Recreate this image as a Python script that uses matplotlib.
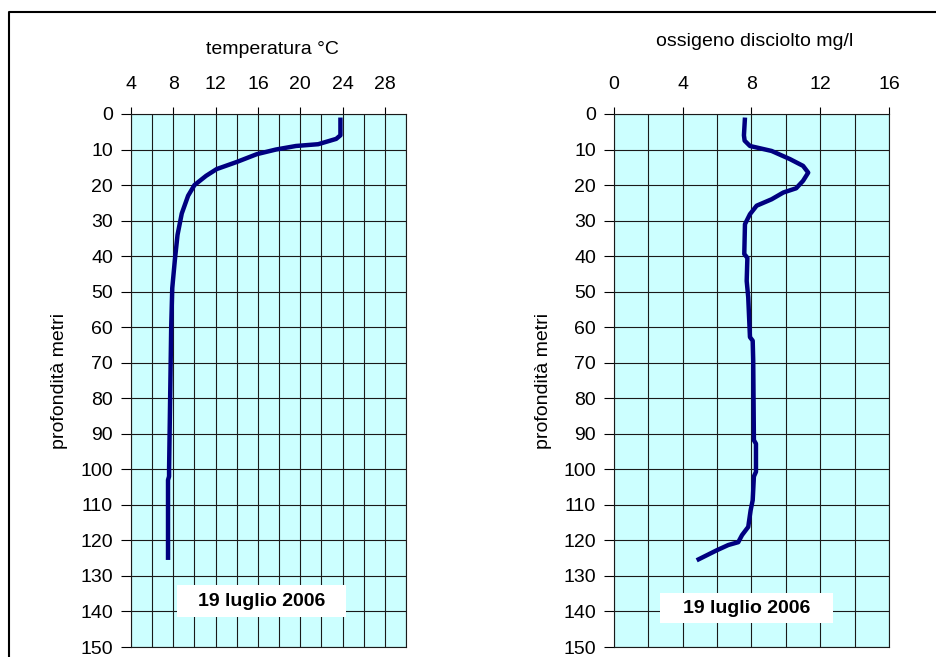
import numpy as np
import matplotlib
matplotlib.use('Agg')
import matplotlib.pyplot as plt
from matplotlib.patches import Rectangle
from matplotlib.lines import Line2D

plt.rcParams['font.family'] = ['Liberation Sans', 'DejaVu Sans']

# profilo di temperatura (profondita m, gradi C)
temp_depth = [1, 6, 7, 8.5, 9, 10, 11.3, 13.5, 15.5, 17.4, 20, 23, 28, 34,
              41, 49, 60, 70, 80, 90, 100, 102, 103, 110, 120, 125.5]
temp_val = [23.8, 23.8, 23.4, 21.7, 19.6, 17.7, 15.9, 14.0, 12.1, 11.1,
            10.0, 9.4, 8.8, 8.4, 8.15, 7.9, 7.8, 7.75, 7.7, 7.65, 7.6, 7.6,
            7.5, 7.5, 7.5, 7.5]
temp_ticks = [4, 8, 12, 16, 20, 24, 28]

# ossigeno disciolto (profondita m, mg/l)
ox_depth = [1, 6, 7.5, 9, 10.4, 12.7, 14.6, 16.5, 18.8, 20.9, 22.1, 24, 25.8,
            28.2, 31, 39.4, 40.5, 47, 51.6, 62.8, 63.8, 69.4, 91.8, 92.8,
            100.7, 102, 108.7, 111.5, 116.2, 118.5, 120.5, 121.3, 122.8,
            124.2, 125.6]
ox_val = [7.62, 7.56, 7.6, 7.91, 9.17, 10.24, 11.0, 11.3, 11.0, 10.6, 9.85,
          9.17, 8.3, 7.91, 7.62, 7.58, 7.76, 7.72, 7.81, 7.91, 8.07, 8.10,
          8.14, 8.26, 8.26, 8.14, 8.07, 7.95, 7.81, 7.45, 7.23, 6.65, 5.97,
          5.39, 4.81]
ox_ticks = [0, 4, 8, 12, 16]

depth_ticks = list(range(0, 151, 10))
date_label = '19 luglio 2006'

W, H = 937, 657
FS = 14
fig = plt.figure(figsize=(W / 100, H / 100), dpi=100)
fig.patch.set_facecolor('white')


def fx(x):
    return x / W


def fy(y):
    return 1 - y / H


def profile(left, xlim, ticks, depth, vals, title, title_base, box):
    ax = fig.add_axes([fx(left), fy(647), 275 / W, 533 / H])
    ax.set_facecolor('#ccffff')
    ax.plot(vals, depth, color='#000080', lw=3.2, solid_joinstyle='round',
            solid_capstyle='butt', zorder=2)
    ax.set_xlim(*xlim)
    ax.set_ylim(150, 0)
    ax.xaxis.tick_top()
    ax.set_xticks(ticks)
    ax.set_xticks(np.arange(xlim[0], xlim[1] + 0.1, 2), minor=True)
    ax.set_yticks(depth_ticks)
    ax.tick_params(axis='x', which='major', direction='out', length=5,
                   width=0.8, pad=10, labelsize=FS)
    ax.tick_params(axis='x', which='minor', length=0)
    ax.tick_params(axis='y', direction='out', length=7, width=0.8, pad=6,
                   labelsize=FS)
    ax.set_axisbelow(True)
    ax.grid(which='both', color='#1a1a1a', lw=0.8)
    for s in ax.spines.values():
        s.set_linewidth(0.8)
        s.set_color('#1a1a1a')

    fig.text(fx(left + 141), fy(title_base), title, ha='center',
             va='baseline', fontsize=FS)
    fig.text(fx(left - 71), fy(381), 'profondità metri', rotation=90,
             ha='center', va='center', fontsize=FS)

    bx, by, bw, bh = box
    ax.add_patch(Rectangle((bx, by), bw, bh, transform=ax.transAxes,
                           facecolor='white', edgecolor='none', zorder=3))
    ax.text(bx + bw / 2, by + bh / 2, date_label, transform=ax.transAxes,
            ha='center', va='center', fontsize=FS, fontweight='bold',
            zorder=4)
    return ax


profile(131, (4, 30), temp_ticks, temp_depth, temp_val, 'temperatura °C', 54,
        (0.167, 0.056, 0.615, 0.060))
profile(614, (0, 16), ox_ticks, ox_depth, ox_val, 'ossigeno disciolto mg/l',
        46, (0.167, 0.045, 0.629, 0.056))

# cornice esterna del grafico
fig.add_artist(Line2D([fx(9), fx(9), 1.0], [0.0, fy(12), fy(12)],
                      color='black', lw=1.5, transform=fig.transFigure))

fig.savefig('out.png', dpi=100)
